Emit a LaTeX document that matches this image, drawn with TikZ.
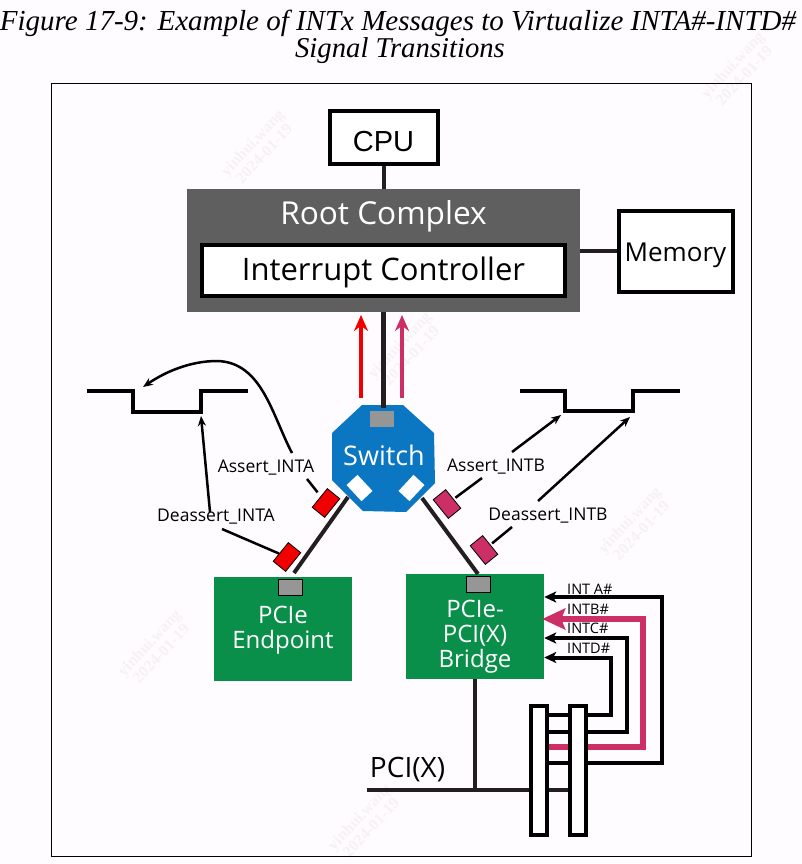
\documentclass[tikz,border=0pt]{standalone}
\usepackage{fontspec}
\setmainfont{Open Sans}
\newfontfamily\titlefont{Liberation Serif}
\newfontfamily\cpufont{Liberation Sans}
\usetikzlibrary{arrows.meta,calc}
\definecolor{rcgray}{HTML}{5F5F5F}
\definecolor{swblue}{HTML}{0B76C1}
\definecolor{epgreen}{HTML}{0A8F4A}
\definecolor{intred}{HTML}{F00000}
\definecolor{crim}{HTML}{CC2E66}
\definecolor{portgray}{HTML}{969696}
\definecolor{wire}{HTML}{231F20}
\definecolor{wm}{HTML}{F6F1F5}
\definecolor{paper}{HTML}{FEFCFE}
\newcommand{\fs}[1]{\fontsize{#1}{#1}\selectfont}
\tikzset{
  x=1pt,y=-1pt,
  box/.style={draw=black,line width=4pt,fill=white,inner sep=0pt,text=black},
  epbox/.style={fill=epgreen,inner sep=0pt},
  eptext/.style={text=white,align=center,inner sep=0pt,font=\fs{24}},
  port/.style={draw=black,line width=1pt,fill=portgray,minimum width=24pt,minimum height=16pt,inner sep=0pt},
  msg/.style={draw=black,line width=.8pt,minimum width=24pt,minimum height=16pt,inner sep=0pt},
  wht/.style={fill=white,minimum width=22pt,minimum height=15pt,inner sep=0pt},
  bar/.style={draw=black,line width=4pt,fill=white,minimum width=15.4pt,minimum height=128.4pt,inner sep=0pt},
  lab/.style={font=\fs{17.5},inner sep=1pt,text=black},
  intlab/.style={font=\fs{14.5},inner sep=0pt,text=black},
  link/.style={draw=wire,line width=4pt},
  thin/.style={draw=black,line width=2.5pt},
  sig/.style={draw=black,line width=3.5pt,line join=miter},
  arr/.style={thin,-{Stealth[length=10pt,width=8pt]}},
  intarrow/.style={draw=black,line width=4pt,-{Stealth[length=12pt,width=11pt,inset=3pt]}},
  uparrow/.style={line width=4pt,-{Stealth[length=16pt,width=14pt]}},
  wmark/.style={text=wm,font=\fs{16}\titlefont\bfseries,align=center,rotate=47},
}
\begin{document}
\begin{tikzpicture}
\useasboundingbox (0,0) rectangle (802,864);
\fill[paper] (0,0) rectangle (802,864);
\foreach \p in {(258,148),(738,70),(635,525),(155,648),(405,350),(365,822)}{
  \node[wmark] at \p {yinhui.wang\\2024-01-19};
}
\node[font=\fs{29}\titlefont\itshape,inner sep=0pt] (t1) at (398,23) {Figure 17-9: Example of INTx Messages to Virtualize INTA\#-INTD\#};
\node[font=\fs{28.7}\titlefont\itshape,inner sep=0pt] (t2) at (400,51) {Signal Transitions};
\draw[line width=.8pt] (51,83) rectangle (751,856);
% top boxes
\node[box,minimum width=108pt,minimum height=52pt,font=\fs{29}\cpufont] (cpu) at (383.5,137.5) {\raisebox{-14pt}[0pt][0pt]{CPU}};
\node[fill=rcgray,minimum width=393pt,minimum height=123pt,inner sep=0pt] (rc) at (383.5,250.5) {};
\node[text=white,font=\fs{31.6},inner sep=0pt] (rct) at (383.5,216.5) {Root Complex};
\node[box,minimum width=363pt,minimum height=51pt,font=\fs{31}] (ic) at (383.5,270) {\raisebox{-10pt}[0pt][0pt]{Interrupt Controller}};
\node[box,minimum width=114pt,minimum height=81pt,font=\fs{26}] (mem) at (675.5,251) {\raisebox{-10pt}[0pt][0pt]{Memory}};
\draw[link] (cpu.south) -- (cpu.south |- rc.north);
\draw[link] (rc.east |- mem.west) -- (mem.west);
% switch
\path[fill=swblue] (362,405) -- (403,405) -- (434,433) -- (435,483) -- (406,512) -- (363,511) -- (332,480) -- (332,433) -- cycle;
\node[port,draw=none] (swp) at (382,419) {};
\node[text=white,font=\fs{27},inner sep=0pt] (swt) at (384,455) {Switch};
\node[wht,rotate=-47] (swl) at (359.5,488) {};
\node[wht,rotate=47] (swr) at (411.5,488) {};
% root-switch link and arrows
\draw[link,line width=4.5pt] (383.5,312) -- (383.5,408);
\coordinate (ra0) at (361,398);\coordinate (ra1) at (361,315);
\coordinate (ca0) at (402,398);\coordinate (ca1) at (402,315);
\draw[uparrow,draw=intred] (ra0) -- (ra1);
\draw[uparrow,draw=crim] (ca0) -- (ca1);
% endpoints
\node[epbox,minimum width=138pt,minimum height=104pt] (ep) at (283,629) {};
\node[eptext] (ept) at (283,630) {PCIe\\[1pt]Endpoint};
\node[port] (epp) at (290.5,587) {};
\node[epbox,minimum width=138pt,minimum height=105pt] (br) at (475,626.5) {};
\node[eptext] (brt) at (475,637) {PCIe-\\[1pt]PCI(X)\\[1pt]Bridge};
\node[port] (brp) at (478,584) {};
% links
\coordinate (ll0) at (348,497);\coordinate (ll1) at (294,573);
\coordinate (rl0) at (422,498);\coordinate (rl1) at (478,574);
\draw[link] (ll0) -- (ll1);
\draw[link] (rl0) -- (rl1);
% messages
\node[msg,fill=intred,rotate=51] (m1) at (326,503) {};
\node[msg,fill=intred,rotate=51] (m2) at (287,557) {};
\node[msg,fill=crim,rotate=-51] (m3) at (447,504) {};
\node[msg,fill=crim,rotate=-51] (m4) at (484,550) {};
% labels
\node[lab] (a1) at (266,468) {Assert\_INTA};
\node[lab] (d1) at (216,517) {Deassert\_INTA};
\node[lab] (a2) at (496,467) {Assert\_INTB};
\node[lab] (d2) at (548,516) {Deassert\_INTB};
% waveforms
\draw[sig] (87,391) -- (133,391) -- (133,412) -- (201,412) -- (201,391) -- (248,391);
\draw[sig] (520,391) -- (565,391) -- (565,411) -- (633,411) -- (633,391) -- (680,391);
% signal connectors
\coordinate (w1) at (143,387);\coordinate (w2) at (201,416);
\coordinate (w3) at (561,415);\coordinate (w4) at (630,417);
\coordinate (a1s) at (292,453);\coordinate (d1s) at (210,512);
\coordinate (a2s) at (512,452);\coordinate (d2s) at (538,501);
\draw[arr] (a1s) .. controls (272,415) and (262,362) .. (217,361) .. controls (190,361) and (165,372) .. (w1);
\draw[arr] (d1s) -- (w2);
\draw[arr] (a2s) -- (w3);
\draw[arr] (d2s) -- (w4);
\coordinate (a1e) at (307,479);\coordinate (d1e) at (222,529);
\coordinate (a2e) at (482,478);\coordinate (d2e) at (512,527);
\draw[thin,shorten >=5pt] (a1e) -- (m1);
\draw[thin] (d1e) -- (m2);
\draw[thin,shorten >=2pt] (a2e) -- (m3);
\draw[thin,shorten >=2pt] (d2e) -- (m4);
% PCI bus and bars
\coordinate (pcil) at (367,790);
\draw[link] (pcil) -- (568,790);
\draw[link] (br.south -| 475,0) -- (475,790);
\node[lab,font=\fs{28}] (pci) at (407.5,770) {PCI(X)};
\node[bar] (b1) at (539,770.5) {};
\draw[intarrow] (b1.east |- 0,715) -- (611,715) -- (611,657.5) -- (br.east |- 0,657.5);
\draw[intarrow] (b1.east |- 0,732) -- (627,732) -- (627,638) -- (br.east |- 0,638);
\draw[intarrow] (b1.east |- 0,763) -- (662,763) -- (662,597) -- (br.east |- 0,597);
\draw[draw=crim,line width=5.5pt,-{Stealth[length=23pt,width=21pt,inset=4pt]}] (b1.east |- 0,747) -- (643,747) -- (643,619) -- ([xshift=-2pt]br.east |- 0,619);
\node[bar] (b2) at (578,770.5) {};
\node[intlab,anchor=west] (ia) at (567,589.5) {INT A\#};
\node[intlab,anchor=west] (ib) at (567,609.5) {INTB\#};
\node[intlab,anchor=west] (ic2) at (567,628.5) {INTC\#};
\node[intlab,anchor=west] (id) at (567,648.5) {INTD\#};
\end{tikzpicture}
\end{document}
